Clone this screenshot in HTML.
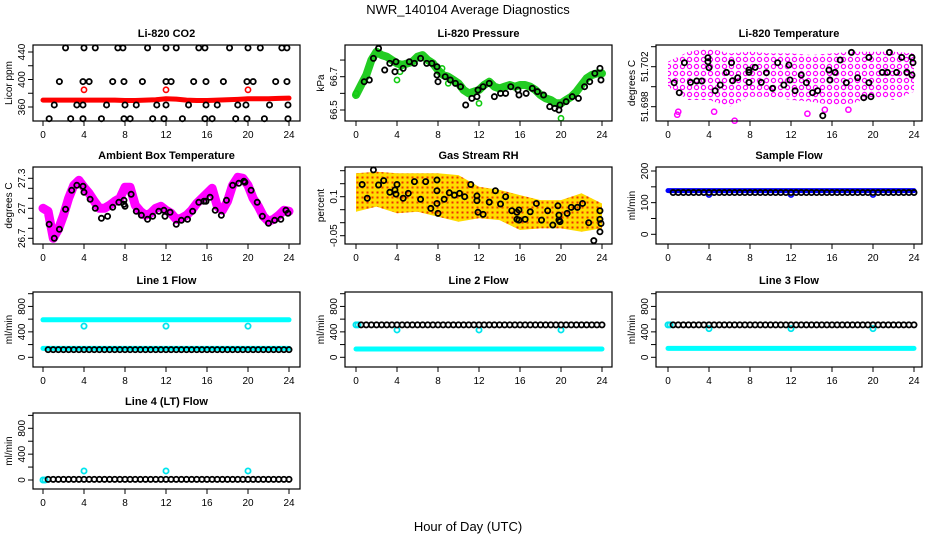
<!DOCTYPE html>
<html><head><meta charset="utf-8"><style>
html,body{margin:0;padding:0;background:#fff}
svg{display:block;font-family:"Liberation Sans",sans-serif}
</style></head><body>
<svg id="s" width="936" height="540" viewBox="0 0 936 540" xmlns="http://www.w3.org/2000/svg">
<defs>
<pattern id="pinkPat" width="7" height="7" patternUnits="userSpaceOnUse"><circle cx="3.5" cy="3.5" r="2.1" fill="none" stroke="#ff00ff" stroke-width="1.2"/></pattern>
<pattern id="rhPat" width="5" height="5" patternUnits="userSpaceOnUse"><rect width="5" height="5" fill="#ffdd00"/><rect x="1.5" y="1.5" width="2" height="2" fill="#ee3300"/></pattern>
</defs>
<text x="468" y="14" text-anchor="middle" font-size="13">NWR_140104  Average Diagnostics</text>
<text x="468" y="531" text-anchor="middle" font-size="13">Hour of Day (UTC)</text>
</svg>
<script>
// ---------- data ----------
const hours48 = [0.5,1,1.5,2,2.5,3,3.5,4,4.5,5,5.5,6,6.5,7,7.5,8,8.5,9,9.5,10,10.5,11,11.5,12,12.5,13,13.5,14,14.5,15,15.5,16,16.5,17,17.5,18,18.5,19,19.5,20,20.5,21,21.5,22,22.5,23,23.5,24];
const bandHours = [0,1,2,3,4,5,6,7,8,9,10,11,12,13,14,15,16,17,18,19,20,21,22,23,24];
const halfHours = [0,0.5,1,1.5,2,2.5,3,3.5,4,4.5,5,5.5,6,6.5,7,7.5,8,8.5,9,9.5,10,10.5,11,11.5,12,12.5,13,13.5,14,14.5,15,15.5,16,16.5,17,17.5,18,18.5,19,19.5,20,20.5,21,21.5,22,22.5,23,23.5,24];
const twoHours = [0,2,4,6,8,10,12,14,16,18,20,22,24];

// CO2
const co2Hours = [2.2,4,5.1,7.3,7.8,10.2,12,13,15.2,15.8,18.2,20,21.2,23.3,23.8, 1.6,3.9,4.5,6.8,7.9,9.7,12,12.5,14.7,15.9,17.6,19.9,20.5,22.7,23.8, 1.1,3.3,3.9,6.2,8,9.1,11.1,12,14.2,15.9,17,19,19.8,22.1,23.9, 0.6,2.7,3.9,5.7,7.9,8.5,10.7,11.8,13.6,15.8,16.5,18.8,19.9,21.6,23.9];
const co2Values = [446,446,446,446,446,446,446,446,446,446,446,446,446,446,446, 397,397,397,397,397,397,397,397,397,397,397,397,397,397,397, 363,363,363,363,363,363,363,363,363,363,363,363,363,363,363, 343,343,343,343,343,343,343,343,343,343,343,343,343,343,343];
const co2Red = [370,370,370,370,370,370,370,370,369.5,369.5,370,370.5,372,371.5,370,369.5,369.5,370,370.5,371,372,372,372,372.5,373];
const co2RedOutHours = [4,12,20];
const co2RedOutValues = [385,385,385];

// Pressure
const presBand = [66.59,66.65,66.71,66.80,66.85,66.83,66.82,66.80,66.78,66.77,66.78,66.79,66.82,66.83,66.80,66.78,66.74,66.71,66.70,66.68,66.66,66.62,66.60,66.61,66.62,66.65,66.67,66.64,66.63,66.64,66.65,66.64,66.65,66.65,66.64,66.62,66.59,66.57,66.56,66.54,66.54,66.56,66.58,66.61,66.65,66.69,66.71,66.72,66.72];
const presBlackHours = [0.8,1.3,1.7,2.2,2.8,3.3,3.8,3.9,4.6,5.2,5.7,6.3,6.9,7.4,7.9,7.9,8,8.7,9.2,9.7,10.2,10.7,11.3,11.9,11.8,12.4,13,13.5,14.1,14.6,15.1,15.8,15.9,16.6,17.2,17.7,18.3,18.9,19.4,19.8,19.9,20.5,21.1,21.7,22.3,22.8,23.3,23.8,23.9];
const presBlackValues = [66.67,66.68,66.81,66.87,66.74,66.78,66.73,66.79,66.75,66.79,66.78,66.81,66.78,66.78,66.76,66.71,66.67,66.70,66.68,66.66,66.64,66.53,66.57,66.62,66.58,66.64,66.66,66.58,66.60,66.60,66.64,66.62,66.59,66.60,66.63,66.61,66.59,66.52,66.51,66.50,66.53,66.55,66.58,66.57,66.64,66.67,66.72,66.75,66.68];
const presGreenOutHours = [0,4,4.3,8.4,9,12,20];
const presGreenOutValues = [66.60,66.68,66.73,66.75,66.66,66.54,66.45];

// Li-820 temperature
const tempUpper = [51.7025,51.7035,51.70383,51.70333,51.7035,51.70333,51.70333,51.70317,51.70333,51.7035,51.7035,51.7035,51.70333];
const tempLower = [51.700,51.69867,51.69867,51.698,51.699,51.699,51.69867,51.6985,51.69817,51.69833,51.699,51.69867,51.6995];
const tempPinkOutHours = [0.9,1.0,4.5,6.5,13.6,15.3,17.6];
const tempPinkOutValues = [51.6972,51.6975,51.6975,51.6966,51.6973,51.6977,51.6977];
const tempBlackHours = [0.6,1.1,1.6,2.2,2.8,3.3,3.9,3.9,4,4.6,5.1,5.7,6.2,6.3,6.8,7.9,7.9,7.9,8.5,9.1,9.6,10.2,10.7,11.3,11.8,11.9,12.4,13.0,13.5,14.1,14.6,15.1,15.7,15.8,16.3,16.8,17.4,17.9,18.5,19.1,19.6,19.6,19.8,20.9,21.4,21.6,22.3,22.8,23.3,23.8,23.9,23.8];
const tempBlackValues = [51.7004,51.6994,51.7024,51.70043,51.70057,51.70057,51.7029,51.7025,51.7019,51.6996,51.70017,51.70143,51.7024,51.7006,51.7009,51.70167,51.70143,51.70043,51.70193,51.70043,51.7014,51.69983,51.7024,51.70017,51.70217,51.70067,51.6996,51.70117,51.7004,51.6994,51.6996,51.6971,51.70167,51.70067,51.70143,51.70267,51.7004,51.70343,51.7009,51.6989,51.70293,51.7004,51.699,51.70143,51.70143,51.70343,51.70143,51.70293,51.70143,51.70293,51.7024,51.70117];

// Ambient box temperature
const ambBand = [27.0,26.97,26.70,26.79,26.93,27.10,27.23,27.28,27.21,27.15,27.07,27.0,27.0,27.03,27.07,27.10,27.21,27.21,27.03,26.97,26.93,26.95,27.0,27.02,26.98,26.95,26.89,26.90,26.93,26.98,27.05,27.10,27.15,27.20,27.02,26.98,27.07,27.23,27.31,27.30,27.23,27.10,27.02,26.92,26.87,26.89,26.93,26.98,26.97];
const ambBlackHours = [0.6,1.1,1.6,2.2,2.8,3.3,3.9,4.0,4.6,5.1,5.7,6.3,6.8,7.4,7.9,7.9,8,8.6,9.1,9.6,10.2,10.7,11.3,11.8,11.9,12.4,13,13.5,14.1,14.6,15.2,15.7,15.9,16.3,16.8,17.4,17.9,18.5,19.1,19.6,19.7,20.3,20.9,21.4,22.0,22.6,23.2,23.7,23.9];
const ambBlackValues = [26.84,26.70,26.79,26.99,27.18,27.23,27.22,27.16,27.09,27.00,26.90,26.92,27.01,27.06,27.08,27.04,27.02,27.14,26.97,26.93,26.89,26.92,26.97,26.98,26.92,26.96,26.84,26.88,26.89,26.97,27.06,27.07,27.07,27.11,26.98,26.93,27.08,27.23,27.25,27.27,27.26,27.18,27.06,26.92,26.85,26.88,26.89,26.98,26.95];

// Gas stream RH
const rhUpper = [0.19,0.196,0.19,0.19,0.19,0.183,0.138,0.126,0.106,0.087,0.087,0.113,0.074];
const rhLower = [0.042,0.062,0.036,0.042,0.023,0.004,0.017,0.010,-0.028,-0.022,-0.022,-0.035,-0.022];
const rhBlackHours = [0.6,1.1,1.7,2.2,2.7,3.3,3.8,3.9,4,4.6,5.1,5.7,6.3,6.8,7.3,7.9,7.9,7.9,8,8.6,9.1,9.6,10.1,10.6,11.2,11.8,11.8,11.9,12.4,13.0,13.6,14.1,14.6,15.2,15.7,15.7,15.9,15.9,16.5,17.0,17.6,18.1,18.7,19.2,19.7,19.8,19.8,19.9,20.6,21.0,21.6,22.1,22.7,23.2,23.8,23.8,23.9,23.8];
const rhBlackValues = [0.147,0.094,0.203,0.145,0.162,0.117,0.126,0.110,0.147,0.094,0.113,0.158,0.090,0.158,0.055,0.164,0.123,0.074,0.036,0.090,0.115,0.106,0.113,0.100,0.147,0.103,0.085,0.040,0.032,0.079,0.123,0.072,0.100,0.046,0.040,0.013,0.049,0.010,0.013,0.042,0.074,0.010,0.046,-0.009,0.065,0.029,0.010,0.004,0.036,0.059,0.059,0.074,0.0,-0.069,0.046,0.013,-0.003,-0.035];

// Flows
const sampleBlue = [138,138,138,138,138,138,138,138,138,138,138,138,138,138,138,138,138,138,138,138,138,138,138,138,138];
const sampleBlack = [132,132,132,132,132,132,132,132,132,132,132,132,132,132,132,132,132,132,132,132,132,132,132,132,132,132,132,132,132,132,132,132,132,132,132,132,132,132,132,132,132,132,132,132,132,132,132,132];
const sampleDipHours = [4,12,20];
const sampleDipValues = [126,126,126];
const line1CyanHigh = [590,590,590,590,590,590,590,590,590,590,590,590,590,590,590,590,590,590,590,590,590,590,590,590,590];
const line1CyanLow = [140,140,140,140,140,140,140,140,140,140,140,140,140,140,140,140,140,140,140,140,140,140,140,140,140];
const line1Black = [120,120,120,120,120,120,120,120,120,120,120,120,120,120,120,120,120,120,120,120,120,120,120,120,120,120,120,120,120,120,120,120,120,120,120,120,120,120,120,120,120,120,120,120,120,120,120,120];
const line1OutValues = [490,490,490];
const line2CyanLow = [130,130,130,130,130,130,130,130,130,130,130,130,130,130,130,130,130,130,130,130,130,130,130,130,130];
const line2Black = [510,510,510,510,510,510,510,510,510,510,510,510,510,510,510,510,510,510,510,510,510,510,510,510,510,510,510,510,510,510,510,510,510,510,510,510,510,510,510,510,510,510,510,510,510,510,510,510];
const line2OutValues = [430,430,430];
const line3CyanLow = [140,140,140,140,140,140,140,140,140,140,140,140,140,140,140,140,140,140,140,140,140,140,140,140,140];
const line3Black = [510,510,510,510,510,510,510,510,510,510,510,510,510,510,510,510,510,510,510,510,510,510,510,510,510,510,510,510,510,510,510,510,510,510,510,510,510,510,510,510,510,510,510,510,510,510,510,510];
const line3OutValues = [450,450,450];
const line4Black = [10,10,10,10,10,10,10,10,10,10,10,10,10,10,10,10,10,10,10,10,10,10,10,10,10,10,10,10,10,10,10,10,10,10,10,10,10,10,10,10,10,10,10,10,10,10,10,10];
const line4OutValues = [140,140,140];
const flowOutHours = [4,12,20];
const flowStartHours = [0,0.2];
const line2StartValues = [510,510];
const line4StartValues = [0,0];

// ---------- drawing ----------
const NS = "http://www.w3.org/2000/svg";
const svg = document.getElementById('s');
const cols = [{x0:33,x1:300,h0:43,h24:289},{x0:345,x1:612,h0:356,h24:602},{x0:656,x1:922,h0:668,h24:914}];
const rows = [{t:45,b:121},{t:167,b:244},{t:292,b:367},{t:413,b:489}];
function el(tag, attrs, parent){ const e=document.createElementNS(NS,tag); for(const k in attrs) e.setAttribute(k,attrs[k]); (parent||svg).appendChild(e); return e; }

function panel(name,title,ylab,ci,ri,v1,p1,v2,p2,ticks,labels){
  const c=cols[ci], r=rows[ri];
  const g=el('g',{});
  
  
  const x=h=>c.h0+(c.h24-c.h0)*h/24;
  const y=v=>p1+(v-v1)*(p2-p1)/(v2-v1);
  const t=el('text',{x:(c.x0+c.x1)/2,y:r.t-8,'text-anchor':'middle','font-size':'11','font-weight':'bold'},g);
  t.textContent=title;
  
  
  const yl=el('text',{transform:`translate(${c.x0-21},${(r.t+r.b)/2}) rotate(-90)`,'text-anchor':'middle','font-size':'10'},g);
  yl.textContent=ylab;
  
  
  [0,4,8,12,16,20,24].forEach(h=>{
    el('line',{x1:x(h),x2:x(h),y1:r.b,y2:r.b+5,stroke:'#000','stroke-width':1},g);
    const tl=el('text',{x:x(h),y:r.b+17,'text-anchor':'middle','font-size':'10'},g);
    tl.textContent=h;
    
    
  });
  ticks.forEach(v=>{
    el('line',{x1:c.x0-5,x2:c.x0,y1:y(v),y2:y(v),stroke:'#000','stroke-width':1},g);
  });
  labels.forEach(v=>{
    const tl=el('text',{transform:`translate(${c.x0-8},${y(v)}) rotate(-90)`,'text-anchor':'middle','font-size':'10'},g);
    tl.textContent=v;
    
    
  });
  const plot=el('g',{},g);
  
  
  const box=el('rect',{x:c.x0,y:r.t,width:c.x1-c.x0,height:r.b-r.t,fill:'none',stroke:'#000','stroke-width':1.2},g);
  
  
  return {x,y,plot};
}
function pts(P,hs,vs,color,sw,name){
  hs.forEach((h,i)=>{
    const cc=el('circle',{cx:P.x(h),cy:P.y(vs[i]),r:2.6,fill:'none',stroke:color,'stroke-width':sw||1.6},P.plot);
    
    
  });
}
function band(P,hs,vs,color,w,name){
  const d=hs.map((h,i)=>(i?'L':'M')+P.x(h).toFixed(1)+' '+P.y(vs[i]).toFixed(1)).join(' ');
  const p=el('path',{d,fill:'none',stroke:color,'stroke-width':w,'stroke-linecap':'round','stroke-linejoin':'round'},P.plot);
  
  
}
function envelope(P,hs,up,lo,fill,name){
  let d=hs.map((h,i)=>(i?'L':'M')+P.x(h).toFixed(1)+' '+P.y(up[i]).toFixed(1)).join(' ');
  for(let i=hs.length-1;i>=0;i--) d+=' L'+P.x(hs[i]).toFixed(1)+' '+P.y(lo[i]).toFixed(1);
  const p=el('path',{d:d+' Z',fill,stroke:'none'},P.plot);
  
  
}

// Row 1
let P=panel('co2','Li-820 CO2','Licor ppm',0,0,440,52,360,107,[360,380,400,420,440],[360,400,440]);
band(P,bandHours,co2Red,'#ff0000',5,'co2-red-band');
pts(P,co2RedOutHours,co2RedOutValues,'#ff0000',1.6,'co2-red-point');
pts(P,co2Hours,co2Values,'#000',1.8,'co2-black-point');

P=panel('pressure','Li-820 Pressure','kPa',1,0,66.7,76.7,66.5,110,[66.5,66.6,66.7,66.8],[66.5,66.7]);
band(P,halfHours,presBand,'#22cc22',8,'pressure-green-band');
pts(P,presGreenOutHours,presGreenOutValues,'#11cc11',1.6,'pressure-green-point');
pts(P,presBlackHours,presBlackValues,'#000',1.8,'pressure-black-point');

P=panel('li-temp','Li-820 Temperature','degrees C',2,0,51.700,86.7,51.698,106.7,[51.698,51.700,51.702,51.704],[51.698,51.702]);
envelope(P,twoHours,tempUpper,tempLower,'url(#pinkPat)','li-temp-pink-cloud');
pts(P,tempPinkOutHours,tempPinkOutValues,'#ff00ff',1.5,'li-temp-pink-point');
pts(P,tempBlackHours,tempBlackValues,'#000',1.8,'li-temp-black-point');

// Row 2
P=panel('ambient','Ambient Box Temperature','degrees C',0,1,27.0,208.3,26.7,238.3,[26.7,26.8,26.9,27.0,27.1,27.2,27.3],[26.7,27.0,27.3]);
band(P,halfHours,ambBand,'#ff00ff',9,'ambient-magenta-band');
pts(P,ambBlackHours,ambBlackValues,'#000',1.8,'ambient-black-point');

P=panel('rh','Gas Stream RH','percent',1,1,0.10,196.7,-0.05,235.7,[-0.05,0,0.05,0.10,0.15,0.20],[-0.05,0.10]);
envelope(P,twoHours,rhUpper,rhLower,'url(#rhPat)','rh-orange-cloud');
pts(P,rhBlackHours,rhBlackValues,'#000',1.8,'rh-black-point');

P=panel('sample-flow','Sample Flow','ml/min',2,1,200,171,0,234.3,[0,50,100,150,200],[0,100,200]);
band(P,bandHours,sampleBlue,'#0000ff',5,'sample-blue-band');
pts(P,sampleDipHours,sampleDipValues,'#0000ff',1.6,'sample-blue-point');
pts(P,hours48,sampleBlack,'#000',1.8,'sample-black-point');

// Row 3
const fT=[0,200,400,600,800,1000], fL=[0,400,800];
P=panel('line1-flow','Line 1 Flow','ml/min',0,2,0,357.3,1000,293.7,fT,fL);
band(P,bandHours,line1CyanHigh,'#00ffff',5,'line1-cyan-high-band');
band(P,bandHours,line1CyanLow,'#00ffff',5,'line1-cyan-low-band');
pts(P,flowOutHours,line1OutValues,'#00e5ee',1.8,'line1-cyan-point');
pts(P,hours48,line1Black,'#000',1.8,'line1-black-point');

P=panel('line2-flow','Line 2 Flow','ml/min',1,2,0,357.3,1000,293.7,fT,fL);
band(P,bandHours,line2CyanLow,'#00ffff',5,'line2-cyan-low-band');
pts(P,flowStartHours,line2StartValues,'#00e5ee',1.8,'line2-cyan-point');
pts(P,flowOutHours,line2OutValues,'#00e5ee',1.8,'line2-cyan-point');
pts(P,hours48,line2Black,'#000',1.8,'line2-black-point');

P=panel('line3-flow','Line 3 Flow','ml/min',2,2,0,357.3,1000,293.7,fT,fL);
band(P,bandHours,line3CyanLow,'#00ffff',5,'line3-cyan-low-band');
pts(P,flowStartHours,line2StartValues,'#00e5ee',1.8,'line3-cyan-point');
pts(P,flowOutHours,line3OutValues,'#00e5ee',1.8,'line3-cyan-point');
pts(P,hours48,line3Black,'#000',1.8,'line3-black-point');

// Row 4
P=panel('line4-flow','Line 4 (LT) Flow','ml/min',0,3,0,480,800,428.3,fT,fL);
pts(P,flowStartHours,line4StartValues,'#00e5ee',1.8,'line4-cyan-point');
pts(P,flowOutHours,line4OutValues,'#00e5ee',1.8,'line4-cyan-point');
pts(P,hours48,line4Black,'#000',1.8,'line4-black-point');
</script>
</body></html>
